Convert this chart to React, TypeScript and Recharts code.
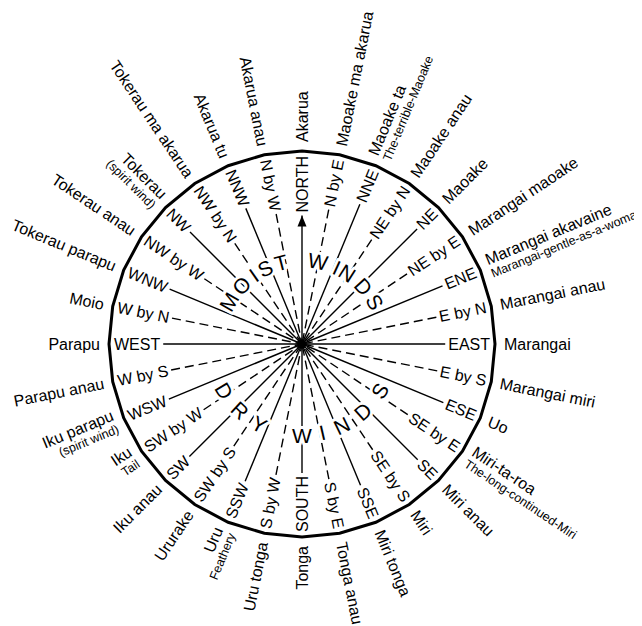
import React from "react";
import { RadarChart, PolarAngleAxis, PolarRadiusAxis, Radar } from "recharts";

// 32 points of the compass, clockwise from north
const points = [
  "NORTH", "N by E", "NNE", "NE by N", "NE", "NE by E", "ENE", "E by N",
  "EAST", "E by S", "ESE", "SE by E", "SE", "SE by S", "SSE", "S by E",
  "SOUTH", "S by W", "SSW", "SW by S", "SW", "SW by W", "WSW", "W by S",
  "WEST", "W by N", "WNW", "NW by W", "NW", "NW by N", "NNW", "N by W",
];

const windNames = [
  "Akarua", "Maoake ma akarua", "Maoake ta", "Maoake anau", "Maoake", "Marangai maoake", "Marangai akavaine", "Marangai anau",
  "Marangai", "Marangai miri", "Uo", "Miri-ta-roa", "Miri anau", "Miri", "Miri tonga", "Tonga anau",
  "Tonga", "Uru tonga", "Uru", "Ururake", "Iku anau", "Iku", "Iku parapu", "Parapu anau",
  "Parapu", "Moio", "Tokerau parapu", "Tokerau anau", "Tokerau", "Tokerau ma akarua", "Akarua tu", "Akarua anau",
];

const windGlosses = [
  "", "", "The-terrible-Maoake", "", "", "", "Marangai-gentle-as-a-woman", "",
  "", "", "", "The-long-continued-Miri", "", "", "", "",
  "", "", "Feathery", "", "", "Tail", "(spirit wind)", "",
  "", "", "", "", "(spirit wind)", "", "", "",
];

// big letters across the rays (bearing in degrees clockwise from north)
const moistLetters = ["M", "O", "I", "S", "T", "W", "I", "N", "D", "S"];
const moistBearings = [300, 314, 325, 334, 345.5, 11, 24.5, 32.5, 47, 60];
const dryLetters = ["D", "R", "Y", "W", "I", "N", "D", "S"];
const dryBearings = [239, 223, 208, 180, 167, 154, 138, 121];

const W = 634;
const H = 618;
const CX = 294;
const CY = 336;
const R = 193;
const FONT = "'Liberation Sans', Arial, Helvetica, sans-serif";
const SIZE = 16;

const data = points.map((p, i) => ({ point: p, name: windNames[i], v: 0 }));

const ctx = typeof document !== "undefined" ? document.createElement("canvas").getContext("2d") : null;
function textWidth(s: string, size: number) {
  if (!ctx) return s.length * size * 0.55;
  ctx.font = `${size}px "Liberation Sans"`;
  return ctx.measureText(s).width;
}

function polar(angle: number, r: number) {
  const rad = (-angle * Math.PI) / 180;
  return { x: CX + Math.cos(rad) * r, y: CY + Math.sin(rad) * r };
}

function Letters() {
  const draw = (ch: string, bearing: number, r: number, upper: boolean, k: string) => {
    const p = polar(90 - bearing, r);
    const rot = upper ? bearing : bearing - 180;
    return (
      <text
        key={k}
        x={p.x}
        y={p.y}
        textAnchor="middle"
        dominantBaseline="central"
        transform={`rotate(${rot}, ${p.x}, ${p.y})`}
        fontFamily={FONT}
        fontSize={21}
        fill="#000"
        stroke="#fff"
        strokeWidth={6}
        strokeLinejoin="round"
        style={{ paintOrder: "stroke" }}
      >
        {ch}
      </text>
    );
  };
  return (
    <g>
      {moistLetters.map((c, i) => draw(c, moistBearings[i], 84, true, `m${i}`))}
      {dryLetters.map((c, i) => draw(c, dryBearings[i], 91, false, `d${i}`))}
      <circle cx={CX} cy={CY} r={4.5} fill="#000" />
    </g>
  );
}

function CompassTick(props: any) {
  const { payload } = props;
  const angle: number = payload.coordinate;
  const i = points.indexOf(payload.value);
  const label = points[i];
  const bearing = (((90 - angle) % 360) + 360) % 360;
  const right = bearing < 179.9;
  const rot = right ? bearing - 90 : bearing + 90;
  const dashed = label.includes(" by ");

  const pIn = polar(angle, R - 5);
  const lineR = R - 5 - textWidth(label, SIZE) - 3;
  const pEnd = polar(angle, lineR);
  const center = polar(angle, 0);

  const pOut = polar(angle, R + 9);
  const gloss = windGlosses[i];

  let arrow = null;
  if (i === 0) {
    const tip = polar(angle, lineR);
    const base = polar(angle, lineR - 11);
    arrow = (
      <polygon
        points={`${tip.x},${tip.y} ${base.x - 4.5},${base.y} ${base.x + 4.5},${base.y}`}
        fill="#000"
      />
    );
  }

  return (
    <g>
      <line
        x1={pEnd.x}
        y1={pEnd.y}
        x2={center.x}
        y2={center.y}
        stroke="#000"
        strokeWidth={1.4}
        strokeDasharray={dashed ? "9 5" : undefined}
      />
      {arrow}
      <text
        x={pIn.x}
        y={pIn.y}
        textAnchor={right ? "end" : "start"}
        dominantBaseline="central"
        transform={`rotate(${rot}, ${pIn.x}, ${pIn.y})`}
        fontFamily={FONT}
        fontSize={SIZE}
        fill="#000"
      >
        {label}
      </text>
      <text
        x={pOut.x}
        y={pOut.y + (gloss ? -7 : 0)}
        textAnchor={right ? "start" : "end"}
        dominantBaseline="central"
        transform={`rotate(${rot}, ${pOut.x}, ${pOut.y})`}
        fontFamily={FONT}
        fontSize={SIZE}
        fill="#000"
      >
        {windNames[i]}
      </text>
      {gloss && (
        <text
          x={pOut.x}
          y={pOut.y + 8}
          textAnchor={right ? "start" : "end"}
          dominantBaseline="central"
          transform={`rotate(${rot}, ${pOut.x}, ${pOut.y})`}
          fontFamily={FONT}
          fontSize={12.5}
          fill="#000"
        >
          {gloss}
        </text>
      )}
      {/* the last tick is drawn last, so the letters sit on top of every ray */}
      {i === points.length - 1 && <Letters />}
    </g>
  );
}

export default function App() {
  return (
    <RadarChart width={W} height={H} cx={CX} cy={CY} outerRadius={R} data={data} startAngle={90} endAngle={-270}>
      <PolarRadiusAxis domain={[0, 1]} tick={false} axisLine={false} />
      <Radar dataKey="v" stroke="none" fill="none" dot={false} isAnimationActive={false} />
      <PolarAngleAxis
        dataKey="point"
        tick={(p: any) => <CompassTick {...p} />}
        tickLine={false}
        axisLine={{ stroke: "#000", strokeWidth: 3 }}
      />
    </RadarChart>
  );
}
